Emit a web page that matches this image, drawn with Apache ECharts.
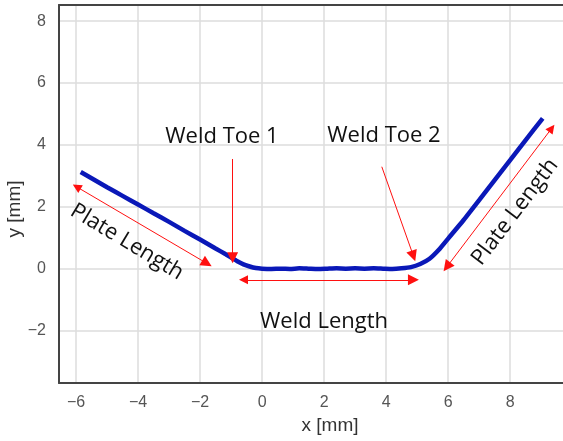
<!DOCTYPE html>
<html>
<head>
<meta charset="utf-8">
<script src="https://cdn.jsdelivr.net/npm/echarts@6/dist/echarts.min.js"></script>
<style>
  html, body { margin: 0; padding: 0; background: #fff; }
  #chart { width: 563px; height: 441px; }
</style>
</head>
<body>
<div id="chart"></div>
<script>
// Weld profile scan: x position [mm] and height y [mm]
const profileX = [-5.85, -5.5, -5.0, -4.5, -4.0, -3.5, -3.0, -2.5, -2.0, -1.5, -1.2, -1.0, -0.8, -0.6, -0.4, -0.2,
  0.0, 0.3, 0.6, 0.9, 1.2, 1.5, 1.8, 2.1, 2.4, 2.7, 3.0, 3.3, 3.6, 3.9, 4.2, 4.5,
  4.8, 5.1, 5.4, 5.7, 6.0, 6.5, 7.0, 7.5, 8.0, 8.5, 9.05];
const profileY = [3.13, 2.93, 2.64, 2.36, 2.08, 1.80, 1.52, 1.23, 0.95, 0.66, 0.49, 0.37, 0.25, 0.15, 0.08, 0.03,
  0.01, 0.00, 0.01, 0.00, 0.02, 0.01, 0.00, 0.01, 0.02, 0.01, 0.02, 0.01, 0.02, 0.01, 0.00, 0.02,
  0.06, 0.16, 0.33, 0.62, 0.98, 1.58, 2.22, 2.87, 3.51, 4.16, 4.86];

// Dimension arrows (data coordinates): double-headed spans and single pointers
const spanArrows = [
  [[-5.98, 2.65], [-1.78, 0.18]],   // left plate length
  [[-0.60, -0.35], [4.88, -0.35]],  // weld length
  [[9.34, 4.54], [5.96, 0.07]]      // right plate length
];
const toeArrows = [
  [[-0.95, 3.55], [-0.95, 0.36]],   // weld toe 1
  [[3.86, 3.30], [4.88, 0.42]]      // weld toe 2
];

const xTicks = [-6, -4, -2, 0, 2, 4, 6, 8];
const yTicks = [-2, 0, 2, 4, 6, 8];

const chart = echarts.init(document.getElementById('chart'), null, { renderer: 'canvas' });

const fmt = (ticks) => (v) => {
  const r = Math.round(v);
  if (Math.abs(v - r) > 1e-6 || ticks.indexOf(r) < 0) return '';
  return String(r).replace('-', '\u2212');
};

const annoFont = '"Open Sans", "Noto Sans", sans-serif';
const annoText = (text, x, y, rotDeg) => ({
  type: 'text',
  x: x, y: y,
  rotation: (rotDeg || 0) * Math.PI / 180,
  style: {
    text: text,
    font: '400 22px ' + annoFont,
    fill: '#111',
    textAlign: 'center',
    textVerticalAlign: 'middle'
  },
  z: 10
});

chart.setOption({
  animation: false,
  backgroundColor: '#ffffff',
  grid: { left: 59, top: 5, right: -38, bottom: 58, containLabel: false, outerBoundsMode: 'none' },
  xAxis: [{
    type: 'value',
    min: -6.55, max: 10.93,
    minInterval: 2, maxInterval: 2,
    name: 'x [mm]',
    nameLocation: 'middle',
    nameGap: 33,
    nameMoveOverlap: false,
    nameTextStyle: { fontFamily: 'Liberation Sans, Arial, sans-serif', fontSize: 19, color: '#333' },
    axisLine: { show: true, onZero: false, lineStyle: { color: '#444', width: 2 } },
    axisTick: { show: false },
    axisLabel: { margin: 12, fontFamily: 'Liberation Sans, Arial, sans-serif', fontSize: 16, color: '#555',
      showMinLabel: false, showMaxLabel: false, formatter: fmt(xTicks) },
    splitLine: { show: true, lineStyle: { color: '#dcdcdc', width: 1.5 } }
  }, {
    type: 'value',
    position: 'top',
    min: -6.55, max: 10.93,
    axisLine: { show: true, onZero: false, lineStyle: { color: '#444', width: 2 } },
    axisTick: { show: false },
    axisLabel: { show: false },
    splitLine: { show: false }
  }],
  yAxis: {
    type: 'value',
    min: -3.68, max: 8.52,
    minInterval: 2, maxInterval: 2,
    name: 'y [mm]',
    nameLocation: 'middle',
    nameGap: 35,
    nameMoveOverlap: false,
    nameTextStyle: { fontFamily: 'Liberation Sans, Arial, sans-serif', fontSize: 19, color: '#333',
      padding: [0, 30, 0, 0] },
    axisLine: { show: true, onZero: false, lineStyle: { color: '#444', width: 2 } },
    axisTick: { show: false },
    axisLabel: { margin: 13, fontFamily: 'Liberation Sans, Arial, sans-serif', fontSize: 16, color: '#555',
      showMinLabel: false, showMaxLabel: false, formatter: fmt(yTicks) },
    splitLine: { show: true, lineStyle: { color: '#dcdcdc', width: 1.5 } }
  },
  series: [{
    type: 'line',
    data: profileX.map((x, i) => [x, profileY[i]]),
    showSymbol: false,
    smooth: 0.2,
    lineStyle: { color: '#0a18b8', width: 4.5 },
    z: 5
  }, {
    type: 'lines',
    coordinateSystem: 'cartesian2d',
    data: spanArrows.map(c => ({ coords: c })),
    symbol: ['triangle', 'triangle'],
    symbolSize: [9, 11],
    lineStyle: { color: '#ff1010', width: 1, opacity: 1 },
    itemStyle: { color: '#ff1010' },
    z: 6
  }, {
    type: 'lines',
    coordinateSystem: 'cartesian2d',
    data: toeArrows.map(c => ({ coords: c })),
    symbol: ['none', 'triangle'],
    symbolSize: [9, 11],
    lineStyle: { color: '#ff1010', width: 1, opacity: 1 },
    itemStyle: { color: '#ff1010' },
    z: 6
  }],
  graphic: [
    annoText('Weld Toe 1', 222, 137),
    annoText('Weld Toe 2', 384, 136),
    annoText('Weld Length', 324, 322),
    annoText('Plate Length', 127, 242, -31),
    annoText('Plate Length', 515, 212, 52.7)
  ]
});
</script>
</body>
</html>
